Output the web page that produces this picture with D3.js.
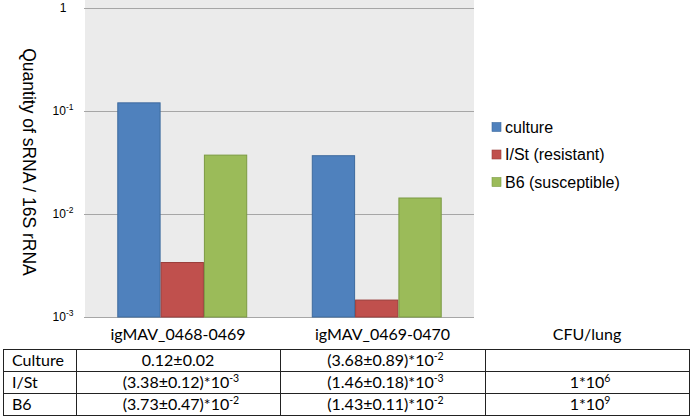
<html>
<script src="https://d3js.org/d3.v7.min.js"></script>
<body style="margin:0;background:#fff">
<div id="chart"></div>
<script>
// data
var genes = ["igMAV_0468-0469", "igMAV_0469-0470"];
var series = ["culture", "I/St (resistant)", "B6 (susceptible)"];
var culture = [0.12, 0.0368];
var ist = [0.00338, 0.00146];
var b6 = [0.0373, 0.0143];
var yTicks = [0.001, 0.01, 0.1, 1];
var yTickLabels = [["10", "-3"], ["10", "-2"], ["10", "-1"], ["1", ""]];

// table rows: each cell = [text, exponent]
var rowLabels = ["Culture", "I/St", "B6"];
var col1 = [["0.12\u00b10.02", ""], ["(3.38\u00b10.12)*10", "-3"], ["(3.73\u00b10.47)*10", "-2"]];
var col2 = [["(3.68\u00b10.89)*10", "-2"], ["(1.46\u00b10.18)*10", "-3"], ["(1.43\u00b10.11)*10", "-2"]];
var cfu = [["", ""], ["1*10", "6"], ["1*10", "9"]];
var headers = ["", genes[0], genes[1], "CFU/lung"];

var colors = ["#4f81bd", "#c0504d", "#9bbb59"];
var strokes = ["#3d6a9e", "#9a3d3a", "#7b9a42"];

var width = 694, height = 420;
var plotLeft = 85, plotRight = 474, plotTop = 8, plotBottom = 317;

var svg = d3.select("#chart").append("svg")
  .attr("width", width).attr("height", height);

svg.append("rect")
  .attr("x", plotLeft).attr("y", 0)
  .attr("width", plotRight - plotLeft).attr("height", plotBottom + 1)
  .attr("fill", "#ebebeb");

var y = d3.scaleLog().domain([0.001, 1]).range([plotBottom, plotTop]);
var x0 = d3.scaleBand().domain(genes).range([plotLeft, plotRight])
  .paddingInner(0.332).paddingOuter(0.166);
var x1 = d3.scaleBand().domain(series).range([0, x0.bandwidth()]);

// gridlines
svg.selectAll(".grid").data(yTicks).enter().append("line")
  .attr("x1", plotLeft - 1).attr("x2", plotRight)
  .attr("y1", function(d) { return Math.round(y(d)) + 0.5; })
  .attr("y2", function(d) { return Math.round(y(d)) + 0.5; })
  .attr("stroke", "#a6a6a6").attr("stroke-width", 1);

// tick labels
var tl = svg.selectAll(".tick").data(yTicks).enter().append("text")
  .attr("x", 63)
  .attr("y", function(d) { return y(d) + 4; })
  .attr("text-anchor", "middle")
  .style("font-family", "Liberation Sans, Arial")
  .style("font-size", "12px")
  .style("fill", "#000");
tl.append("tspan").text(function(d, i) { return yTickLabels[i][0]; });
tl.append("tspan")
  .attr("dy", "-5")
  .style("font-size", "8.5px")
  .text(function(d, i) { return yTickLabels[i][1]; });

// bars
var vals = [culture, ist, b6];
genes.forEach(function(g, gi) {
  series.forEach(function(s, si) {
    var v = vals[si][gi];
    svg.append("rect")
      .attr("x", x0(g) + x1(s) + 0.5)
      .attr("y", y(v))
      .attr("width", x1.bandwidth() - 1)
      .attr("height", plotBottom - y(v))
      .attr("fill", colors[si])
      .attr("stroke", strokes[si])
      .attr("stroke-width", 1);
  });
});

// y axis title
svg.append("text")
  .attr("transform", "translate(23,162) rotate(90)")
  .attr("text-anchor", "middle")
  .style("font-family", "Liberation Sans, Arial")
  .style("font-size", "17.5px")
  .text("Quantity of sRNA / 16S rRNA");

// legend
var leg = svg.selectAll(".leg").data(series).enter().append("g")
  .attr("transform", function(d, i) { return "translate(492," + (127 + i * 27.5) + ")"; });
leg.append("rect")
  .attr("x", 0).attr("y", -4.5).attr("width", 9).attr("height", 9)
  .attr("fill", function(d, i) { return colors[i]; })
  .attr("stroke", function(d, i) { return strokes[i]; })
  .attr("stroke-width", 0.6);
leg.append("text")
  .attr("x", 13).attr("y", 5.5)
  .style("font-family", "Liberation Sans, Arial")
  .style("font-size", "16px")
  .text(function(d) { return d; });

// table
var colX = [3, 76, 280, 485, 689];
var rowY = [349, 371, 393, 415];
var tfont = "Lato, Noto Sans";

svg.selectAll(".hdr").data(headers).enter().append("text")
  .attr("x", function(d, i) { return (colX[i] + colX[i + 1]) / 2; })
  .attr("y", 340)
  .attr("text-anchor", "middle")
  .style("font-family", tfont).style("font-size", "16px")
  .text(function(d) { return d; });

rowY.forEach(function(ry) {
  svg.append("line")
    .attr("x1", colX[0]).attr("x2", colX[4])
    .attr("y1", ry + 0.5).attr("y2", ry + 0.5)
    .attr("stroke", "#222").attr("stroke-width", 1);
});
colX.forEach(function(cx) {
  svg.append("line")
    .attr("x1", cx + 0.5).attr("x2", cx + 0.5)
    .attr("y1", rowY[0]).attr("y2", rowY[3] + 1)
    .attr("stroke", "#222").attr("stroke-width", 1);
});

var cols = [col1, col2, cfu];
rowLabels.forEach(function(lab, ri) {
  var by = rowY[ri] + 16.5;
  svg.append("text")
    .attr("x", colX[0] + 9).attr("y", by)
    .style("font-family", tfont).style("font-size", "16px")
    .text(lab);
  cols.forEach(function(col, ci) {
    var c = col[ri];
    var t = svg.append("text")
      .attr("x", (colX[ci + 1] + colX[ci + 2]) / 2 + (c[1] ? 3 : 0))
      .attr("y", by)
      .attr("text-anchor", "middle")
      .style("font-family", tfont).style("font-size", "16px");
    t.append("tspan").text(c[0]);
    if (c[1]) {
      t.append("tspan").attr("dy", -6).style("font-size", "10.5px").text(c[1]);
    }
  });
});
</script>
</body>
</html>
